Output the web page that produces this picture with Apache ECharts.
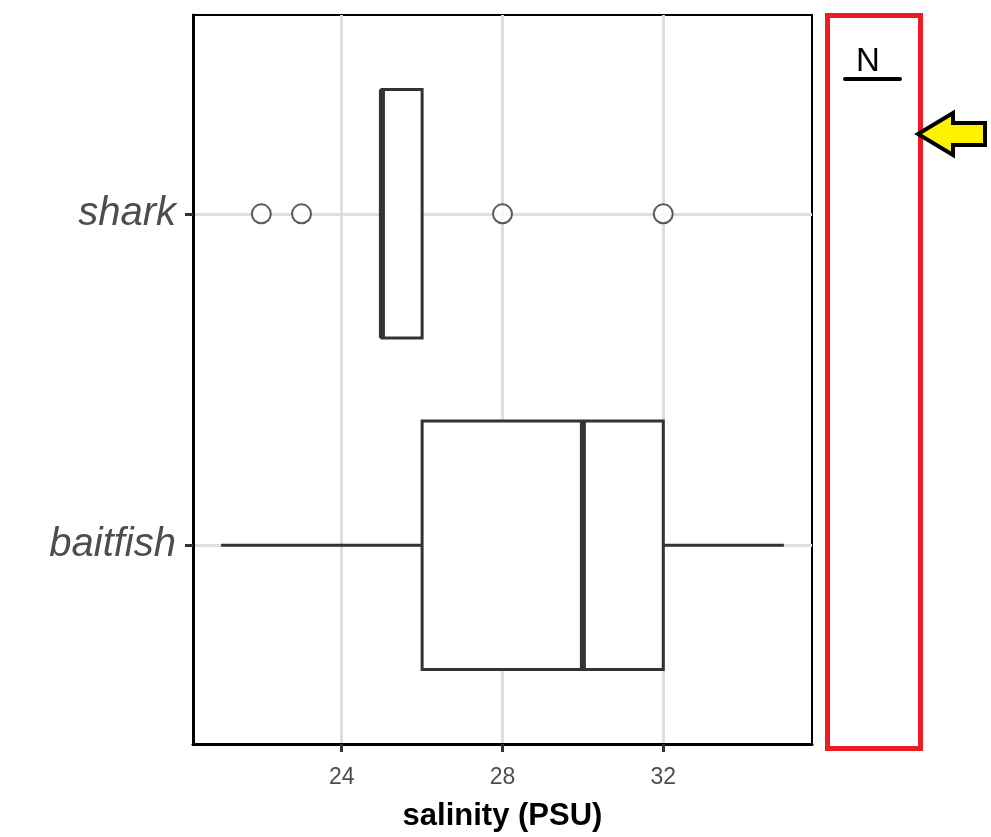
<!DOCTYPE html>
<html>
<head>
<meta charset="utf-8">
<script src="https://cdn.jsdelivr.net/npm/echarts@6/dist/echarts.min.js"></script>
<style>html,body{margin:0;padding:0;background:#fff;}#c{width:991px;height:837px;}</style>
</head>
<body>
<div id="c"></div>
<script>
// categories (y positions 1 and 2)
var categories = ['baitfish', 'shark'];
var catPos = [1, 2];
// five-number summaries
var whiskerLow = [21, 25];
var q1 = [26, 25];
var median = [30, 25];
var q3 = [32, 26];
var whiskerHigh = [35, 26];
// outliers
var outlierCat = [2, 2, 2, 2];
var outlierVal = [22, 23, 28, 32];
// axis ticks
var xTicks = [24, 28, 32];
var xMin = 20.3, xMax = 35.7;

var FONT = '"Liberation Sans", Arial, sans-serif';
var boxHalf = 0.375;

var boxData = categories.map(function (c, i) {
  return [catPos[i], whiskerLow[i], q1[i], median[i], q3[i], whiskerHigh[i]];
});
var outData = outlierVal.map(function (v, i) { return [v, outlierCat[i]]; });

var chart = echarts.init(document.getElementById('c'), null, {renderer: 'canvas'});
chart.setOption({
  animation: false,
  backgroundColor: '#fff',
  grid: {left: 193, right: 179, top: 15, bottom: 91, show: true, borderColor: '#000', borderWidth: 2, backgroundColor: 'transparent'},
  xAxis: {
    type: 'value', min: xMin, max: xMax,
    name: 'salinity (PSU)', nameLocation: 'middle', nameGap: 57,
    nameTextStyle: {fontFamily: FONT, fontSize: 31, fontWeight: 'bold', color: '#000'},
    axisLine: {show: true, onZero: false, lineStyle: {color: '#000', width: 3}},
    axisTick: {show: true, length: 8, customValues: xTicks, lineStyle: {color: '#333', width: 3}},
    axisLabel: {customValues: xTicks, fontFamily: FONT, fontSize: 23, color: '#4d4d4d', margin: 22},
    splitLine: {show: true, lineStyle: {color: '#dedede', width: 3}}
  },
  yAxis: {
    type: 'value', min: 0.4, max: 2.6,
    axisLine: {show: true, onZero: false, lineStyle: {color: '#000', width: 3}},
    axisTick: {show: true, length: 8, customValues: catPos, lineStyle: {color: '#333', width: 3}},
    axisLabel: {customValues: catPos, fontFamily: FONT, fontSize: 40, fontStyle: 'italic', color: '#4d4d4d', margin: 17,
      formatter: function (v) { var i = catPos.indexOf(Math.round(v)); return i >= 0 ? categories[i] : ''; }},
    splitLine: {show: true, lineStyle: {color: '#dedede', width: 3}}
  },
  series: [
    {
      type: 'custom',
      data: boxData,
      z: 5,
      renderItem: function (params, api) {
        var y = api.value(0);
        var pLow = api.coord([api.value(1), y]);
        var pQ1 = api.coord([api.value(2), y]);
        var pMed = api.coord([api.value(3), y]);
        var pQ3 = api.coord([api.value(4), y]);
        var pHigh = api.coord([api.value(5), y]);
        var top = api.coord([api.value(2), y + boxHalf])[1];
        var bot = api.coord([api.value(2), y - boxHalf])[1];
        var st = {stroke: '#333', lineWidth: 3, fill: null};
        var children = [];
        if (pQ1[0] - pLow[0] > 0.5) children.push({type: 'line', shape: {x1: pLow[0], y1: pLow[1], x2: pQ1[0], y2: pQ1[1]}, style: st});
        if (pHigh[0] - pQ3[0] > 0.5) children.push({type: 'line', shape: {x1: pQ3[0], y1: pQ3[1], x2: pHigh[0], y2: pHigh[1]}, style: st});
        children.push({type: 'rect', shape: {x: pQ1[0], y: top, width: pQ3[0] - pQ1[0], height: bot - top}, style: {stroke: '#333', lineWidth: 3, fill: '#fff'}});
        children.push({type: 'line', shape: {x1: pMed[0], y1: top, x2: pMed[0], y2: bot}, style: {stroke: '#333', lineWidth: 6}});
        return {type: 'group', children: children};
      }
    },
    {
      type: 'scatter',
      data: outData,
      symbol: 'circle', symbolSize: 19,
      z: 6,
      itemStyle: {color: '#fff', borderColor: '#333', borderWidth: 2}
    }
  ],
  graphic: [
    {type: 'rect', shape: {x: 827.5, y: 15.5, width: 93, height: 733}, style: {stroke: '#ec1c24', lineWidth: 5, fill: null}},
    {type: 'text', x: 868, y: 62, style: {text: 'N', font: '33px ' + FONT, fill: '#000', align: 'center', verticalAlign: 'middle'}},
    {type: 'line', shape: {x1: 845, y1: 79, x2: 900, y2: 79}, style: {stroke: '#000', lineWidth: 4, lineCap: 'round'}},
    {type: 'polygon', shape: {points: [[918, 134], [953, 113], [953, 123], [985, 123], [985, 145], [953, 145], [953, 155]]},
      style: {fill: '#fff200', stroke: '#000', lineWidth: 4, lineJoin: 'miter'}}
  ]
});
</script>
</body>
</html>
